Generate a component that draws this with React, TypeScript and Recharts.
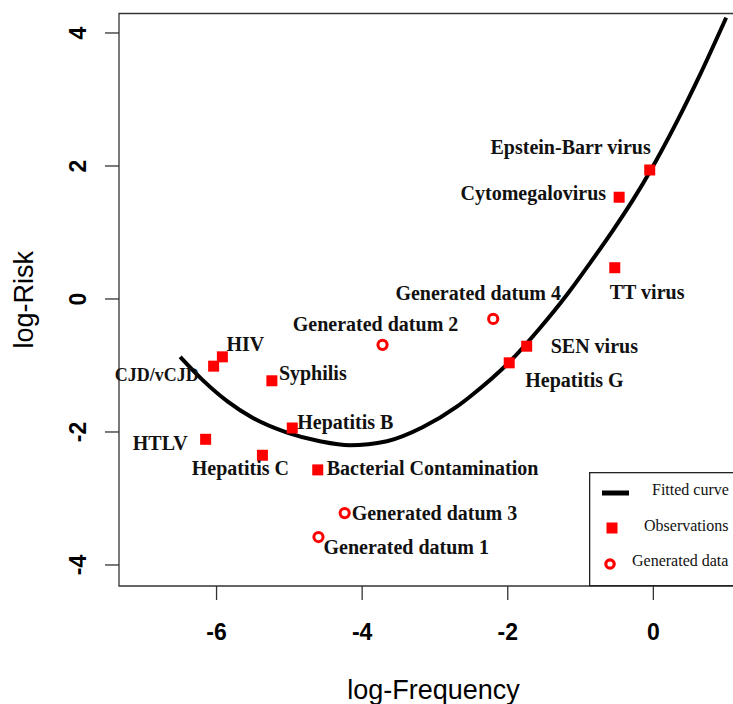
import React from 'react';
import { ComposedChart, XAxis, YAxis, Line, Scatter, ReferenceArea, Legend } from 'recharts';

// ---- data ----
const obsNames = ['Epstein-Barr virus', 'Cytomegalovirus', 'TT virus', 'SEN virus', 'Hepatitis G', 'HIV', 'CJD/vCJD', 'Syphilis', 'Hepatitis B', 'HTLV', 'Hepatitis C', 'Bacterial Contamination'];
const obsX = [-0.05, -0.47, -0.53, -1.74, -1.98, -5.92, -6.04, -5.24, -4.96, -6.15, -5.37, -4.61];
const obsY = [1.94, 1.53, 0.47, -0.71, -0.96, -0.87, -1.01, -1.23, -1.94, -2.11, -2.35, -2.57];

const genNames = ['Generated datum 1', 'Generated datum 2', 'Generated datum 3', 'Generated datum 4'];
const genX = [-4.60, -3.72, -4.24, -2.20];
const genY = [-3.58, -0.69, -3.22, -0.30];

const curveX = [-6.50, -6.19, -5.85, -5.50, -5.03, -4.58, -4.17, -3.66, -3.17, -2.70, -2.52, -1.97, -1.56, -1.19, -0.87, -0.55, -0.28, -0.05, 0.32, 0.64, 1.00];
const curveY = [-0.87, -1.22, -1.54, -1.79, -2.01, -2.14, -2.20, -2.14, -1.93, -1.62, -1.47, -0.94, -0.44, 0.06, 0.54, 1.04, 1.49, 1.91, 2.66, 3.37, 4.23];

const xTicks = [-6, -4, -2, 0];
const yTicks = [-4, -2, 0, 2, 4];
const xDomain = [-7.34, 1.30];
const yDomain = [-4.316, 4.293];

const curveName = 'Fitted curve';
const obsName = 'Observations';
const genName = 'Generated data';
const xTitle = 'log-Frequency';
const yTitle = 'log-Risk';

const obsData = obsNames.map((name, i) => ({ name, x: obsX[i], y: obsY[i] }));
const genData = genNames.map((name, i) => ({ name, x: genX[i], y: genY[i] }));
const curveData = curveX.map((x, i) => ({ x, y: curveY[i] }));

// ---- styling ----
const SANS = '"Liberation Sans", Arial, Helvetica, sans-serif';
const SERIF = '"Liberation Serif", "Times New Roman", Times, serif';
const RED = '#ff0000';
const LABEL_COLOR = '#111111';

// label placement relative to marker (pixels)
const placement: Record<string, { dx: number; dy: number; anchor: 'start' | 'middle' | 'end'; fs?: number }> = {
  'Epstein-Barr virus': { dx: 1, dy: -23, anchor: 'end' },
  'Cytomegalovirus': { dx: -13, dy: -4, anchor: 'end' },
  'TT virus': { dx: -5, dy: 25, anchor: 'start' },
  'SEN virus': { dx: 24, dy: 0, anchor: 'start' },
  'Hepatitis G': { dx: 16, dy: 18, anchor: 'start' },
  'HIV': { dx: 4, dy: -12, anchor: 'start' },
  'CJD/vCJD': { dx: -15, dy: 9, anchor: 'end', fs: 18 },
  'Syphilis': { dx: 7, dy: -7, anchor: 'start' },
  'Hepatitis B': { dx: 5, dy: -6, anchor: 'start' },
  'HTLV': { dx: -18, dy: 4, anchor: 'end' },
  'Hepatitis C': { dx: -22, dy: 13, anchor: 'middle' },
  'Bacterial Contamination': { dx: 9, dy: -1, anchor: 'start' },
  'Generated datum 1': { dx: 5, dy: 10, anchor: 'start' },
  'Generated datum 2': { dx: -7, dy: -20, anchor: 'middle' },
  'Generated datum 3': { dx: 7, dy: 0, anchor: 'start' },
  'Generated datum 4': { dx: -15, dy: -26, anchor: 'middle' },
};

const PointLabel = ({ cx, cy, name }: { cx: number; cy: number; name: string }) => {
  const p = placement[name] || { dx: 8, dy: 0, anchor: 'start' };
  return (
    <text
      x={cx + p.dx}
      y={cy + p.dy}
      dy="0.33em"
      textAnchor={p.anchor}
      fontFamily={SERIF}
      fontWeight="bold"
      fontSize={p.fs || 20}
      fill={LABEL_COLOR}
    >
      {name}
    </text>
  );
};

const SquareShape = (props: any) => {
  const { cx, cy, payload } = props;
  if (cx == null || cy == null) return null;
  return (
    <g>
      <rect x={cx - 5.5} y={cy - 5.5} width={11} height={11} fill={RED} />
      <PointLabel cx={cx} cy={cy} name={payload.name} />
    </g>
  );
};

const CircleShape = (props: any) => {
  const { cx, cy, payload } = props;
  if (cx == null || cy == null) return null;
  return (
    <g>
      <circle cx={cx} cy={cy} r={4.6} fill="#fff" stroke={RED} strokeWidth={3} />
      <PointLabel cx={cx} cy={cy} name={payload.name} />
    </g>
  );
};

const XTick = (props: any) => {
  const { x, y, payload } = props;
  return (
    <text x={x} y={y} dy="0.71em" textAnchor="middle" fontFamily={SANS} fontWeight="bold" fontSize={23} fill="#000">
      {payload.value}
    </text>
  );
};

const YTick = (props: any) => {
  const { x, y, payload } = props;
  return (
    <text
      x={0}
      y={0}
      dy="0.358em"
      transform={`translate(${x - 27.5},${y}) rotate(-90)`}
      textAnchor="middle"
      fontFamily={SANS}
      fontWeight="bold"
      fontSize={23}
      fill="#000"
    >
      {payload.value}
    </text>
  );
};

const XTitle = (props: any) => {
  const vb = props.viewBox || {};
  return (
    <text x={vb.x + vb.width / 2} y={vb.y + 113} textAnchor="middle" fontFamily={SANS} fontSize={27} fill="#000">
      {xTitle}
    </text>
  );
};

const YTitle = (props: any) => {
  const vb = props.viewBox || {};
  return (
    <text
      x={0}
      y={0}
      transform={`translate(33,${vb.y + vb.height / 2}) rotate(-90)`}
      textAnchor="middle"
      fontFamily={SANS}
      fontSize={27}
      fill="#000"
    >
      {yTitle}
    </text>
  );
};

const legendOrder = [curveName, obsName, genName];
const legendRowY = [18, 54, 89];
const legendTextX = [63, 55, 43];

const LegendBox = (props: any) => {
  const items = [...(props.payload || [])].sort(
    (a: any, b: any) => legendOrder.indexOf(a.value) - legendOrder.indexOf(b.value)
  );
  return (
    <svg width={170} height={115} style={{ display: 'block', overflow: 'visible' }}>
      <rect x={0.65} y={0.65} width={168.7} height={113} fill="#fff" stroke="#222" strokeWidth={1.3} />
      {items.map((it: any, i: number) => {
        const cy = legendRowY[i];
        let sym = null;
        if (it.type === 'line') {
          sym = <line x1={13} x2={40} y1={cy + 3} y2={cy + 3} stroke="#000" strokeWidth={5} />;
        } else if (it.type === 'square') {
          sym = <rect x={23 - 5.5} y={cy + 2 - 5.5} width={11} height={11} fill={RED} />;
        } else {
          sym = <circle cx={21} cy={cy + 3} r={4.2} fill="#fff" stroke={RED} strokeWidth={3.2} />;
        }
        return (
          <g key={it.value}>
            {sym}
            <text x={legendTextX[i]} y={cy} dy="0.33em" fontFamily={SERIF} fontSize={16} fill={LABEL_COLOR}>
              {it.value}
            </text>
          </g>
        );
      })}
    </svg>
  );
};

export default function App() {
  return (
    <div
      style={{
        position: 'fixed',
        left: 0,
        top: 0,
        width: 733,
        height: 704,
        overflow: 'hidden',
        background: '#fff',
      }}
    >
      <ComposedChart width={760} height={704} margin={{ top: 13.5, right: 12, bottom: 0, left: 0 }}>
        <XAxis
          type="number"
          dataKey="x"
          domain={xDomain}
          ticks={xTicks}
          interval={0}
          axisLine={false}
          tickLine={{ stroke: '#333', strokeWidth: 1.3 }}
          tickSize={14}
          tickMargin={24}
          tick={<XTick />}
          height={118}
          label={XTitle}
        />
        <YAxis
          type="number"
          dataKey="y"
          domain={yDomain}
          ticks={yTicks}
          interval={0}
          axisLine={false}
          tickLine={{ stroke: '#333', strokeWidth: 1.3 }}
          tickSize={14}
          tickMargin={0}
          tick={<YTick />}
          width={119}
          label={YTitle}
        />
        <ReferenceArea
          x1={xDomain[0]}
          x2={xDomain[1]}
          y1={yDomain[0]}
          y2={yDomain[1]}
          fill="none"
          fillOpacity={0}
          stroke="#333"
          strokeWidth={1.3}
          ifOverflow="visible"
        />
        <Line
          data={curveData}
          dataKey="y"
          type="monotone"
          stroke="#000"
          strokeWidth={4}
          dot={false}
          activeDot={false}
          name={curveName}
          legendType="line"
          isAnimationActive={false}
        />
        <Scatter
          data={obsData}
          dataKey="y"
          name={obsName}
          legendType="square"
          fill={RED}
          shape={<SquareShape />}
          isAnimationActive={false}
        />
        <Scatter
          data={genData}
          dataKey="y"
          name={genName}
          legendType="circle"
          fill={RED}
          shape={<CircleShape />}
          isAnimationActive={false}
        />
        <Legend
          layout="horizontal"
          verticalAlign="middle"
          align="center"
          content={<LegendBox />}
          wrapperStyle={{ position: 'absolute', left: 589, top: 472, width: 170, height: 115, margin: 0, padding: 0 }}
        />
      </ComposedChart>
    </div>
  );
}
